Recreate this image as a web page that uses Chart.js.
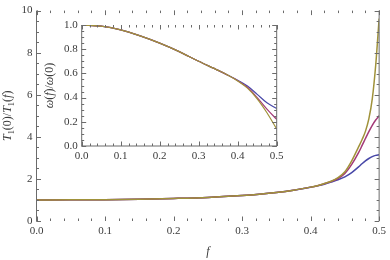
<!DOCTYPE html>
<html>
<head>
<meta charset="utf-8">
<script src="https://cdn.jsdelivr.net/npm/chart.js@4/dist/chart.umd.min.js"></script>
<style>
	html, body { margin: 0; padding: 0; background: #fff; }
	#wrap { position: relative; width: 390px; height: 260px; }
	#wrap canvas { position: absolute; left: 0; top: 0; }
</style>
</head>
<body>
<div id="wrap">
	<canvas id="main-chart" width="390" height="260"></canvas>
	<canvas id="inset-chart" width="390" height="260"></canvas>
</div>
<script>
	'use strict';

	// Main plot: T1(0)/T1(f) against f.
	const fMain = [0, 0.05, 0.1, 0.15, 0.2, 0.25, 0.3, 0.325, 0.35, 0.375, 0.4, 0.41, 0.42, 0.43, 0.44, 0.45, 0.46, 0.47, 0.475, 0.48, 0.485, 0.49, 0.495, 0.5];
	const mainBlue = [1.000, 1.005, 1.015, 1.035, 1.07, 1.12, 1.21, 1.27, 1.35, 1.46, 1.60, 1.67, 1.75, 1.85, 1.96, 2.10, 2.30, 2.57, 2.72, 2.86, 2.97, 3.06, 3.12, 3.15];
	const mainMagenta = [1.000, 1.005, 1.015, 1.035, 1.07, 1.12, 1.21, 1.27, 1.35, 1.46, 1.61, 1.68, 1.77, 1.88, 2.02, 2.26, 2.69, 3.25, 3.58, 3.92, 4.25, 4.55, 4.80, 5.00];
	const mainOlive = [1.000, 1.005, 1.015, 1.035, 1.07, 1.12, 1.21, 1.27, 1.35, 1.46, 1.61, 1.68, 1.78, 1.89, 2.06, 2.34, 2.86, 3.52, 3.86, 4.26, 4.85, 5.80, 7.40, 9.62];

	// Inset: omega(f)/omega(0) against f.
	const fInset = [0, 0.05, 0.1, 0.15, 0.2, 0.25, 0.3, 0.35, 0.375, 0.4, 0.425, 0.45, 0.475, 0.5];
	const insetBlue = [1.0, 0.99, 0.96, 0.91, 0.85, 0.78, 0.70, 0.625, 0.585, 0.543, 0.495, 0.427, 0.357, 0.31];
	const insetMagenta = [1.0, 0.99, 0.96, 0.91, 0.85, 0.78, 0.70, 0.625, 0.585, 0.540, 0.485, 0.40, 0.305, 0.22];
	const insetOlive = [1.0, 0.99, 0.96, 0.91, 0.85, 0.78, 0.70, 0.625, 0.585, 0.538, 0.478, 0.39, 0.275, 0.14];

	// Tick labels.
	const xTicks = [0, 0.1, 0.2, 0.3, 0.4, 0.5];
	const mainYTicks = [0, 2, 4, 6, 8, 10];
	const insetYTicks = [0, 0.2, 0.4, 0.6, 0.8, 1.0];

	const colors = {
		blue: 'rgb(72, 72, 168)',
		magenta: 'rgb(163, 58, 120)',
		olive: 'rgb(160, 146, 58)'
	};
	const axisColor = '#6b6b6b';
	const labelColor = '#3a3a3a';
	const serif = '"Liberation Serif", "DejaVu Serif", serif';

	function toPoints(xs, ys) {
		return xs.map(function(x, i) { return { x: x, y: ys[i] }; });
	}

	function lineSet(label, xs, ys, color, order, width) {
		return {
			label: label,
			data: toPoints(xs, ys),
			borderColor: color,
			backgroundColor: color,
			borderWidth: width,
			pointRadius: 0,
			fill: false,
			cubicInterpolationMode: 'monotone',
			order: order
		};
	}

	/**
	 * Mathematica style frame: inward ticks on every side, lines only where asked.
	 */
	const framePlugin = {
		id: 'frame',
		afterDatasetsDraw: function(chart, args, opts) {
			const ctx = chart.ctx;
			const a = chart.chartArea;
			const xs = chart.scales.x;
			const ys = chart.scales.y;
			ctx.save();
			ctx.strokeStyle = axisColor;
			ctx.lineWidth = 1;

			ctx.beginPath();
			opts.lines.forEach(function(side) {
				if (side === 'left') { ctx.moveTo(a.left, a.top); ctx.lineTo(a.left, a.bottom); }
				if (side === 'right') { ctx.moveTo(a.right, a.top); ctx.lineTo(a.right, a.bottom); }
				if (side === 'bottom') { ctx.moveTo(a.left, a.bottom); ctx.lineTo(a.right, a.bottom); }
				if (side === 'top') { ctx.moveTo(a.left, a.top); ctx.lineTo(a.right, a.top); }
			});
			ctx.stroke();

			function ticksFor(min, max, step) {
				const out = [];
				const n = Math.round((max - min) / step);
				for (let i = 0; i <= n; i++) out.push(min + i * step);
				return out;
			}

			ctx.beginPath();
			[[opts.xMinor, 2.5], [opts.xMajor, 4.5]].forEach(function(pair) {
				ticksFor(xs.min, xs.max, pair[0]).forEach(function(v) {
					const px = Math.round(xs.getPixelForValue(v)) + 0.5;
					ctx.moveTo(px, a.bottom); ctx.lineTo(px, a.bottom - pair[1]);
					ctx.moveTo(px, a.top); ctx.lineTo(px, a.top + pair[1]);
				});
			});
			[[opts.yMinor, 2.5], [opts.yMajor, 4.5]].forEach(function(pair) {
				ticksFor(ys.min, ys.max, pair[0]).forEach(function(v) {
					const py = Math.round(ys.getPixelForValue(v)) + 0.5;
					ctx.moveTo(a.left, py); ctx.lineTo(a.left + pair[1], py);
					ctx.moveTo(a.right, py); ctx.lineTo(a.right - pair[1], py);
				});
			});
			ctx.stroke();
			ctx.restore();
		}
	};

	/**
	 * Draw a run of text pieces with mixed italic / subscript styles.
	 */
	function drawRich(ctx, parts, x, y, size, rotate) {
		ctx.save();
		ctx.translate(x, y);
		if (rotate) ctx.rotate(-Math.PI / 2);
		ctx.fillStyle = labelColor;
		ctx.textBaseline = 'middle';
		ctx.textAlign = 'left';
		const fontFor = function(p) {
			const s = p.sub ? size * 0.7 : size;
			return (p.i ? 'italic ' : '') + s + 'px ' + serif;
		};
		let total = 0;
		parts.forEach(function(p) { ctx.font = fontFor(p); total += ctx.measureText(p.t).width; });
		let cx = -total / 2;
		parts.forEach(function(p) {
			ctx.font = fontFor(p);
			ctx.fillText(p.t, cx, p.sub ? size * 0.28 : 0);
			cx += ctx.measureText(p.t).width;
		});
		ctx.restore();
	}

	const titlesPlugin = {
		id: 'titles',
		afterDraw: function(chart, args, opts) {
			const a = chart.chartArea;
			if (opts.yParts) drawRich(chart.ctx, opts.yParts, opts.yX, (a.top + a.bottom) / 2, 12, true);
			if (opts.xParts) drawRich(chart.ctx, opts.xParts, (a.left + a.right) / 2, opts.xY, 12, false);
		}
	};

	function scaleOptions(min, max, ticks, decimals) {
		return {
			type: 'linear',
			min: min,
			max: max,
			grid: { display: false, drawTicks: false },
			border: { display: false },
			afterBuildTicks: function(scale) {
				scale.ticks = ticks.map(function(v) { return { value: v }; });
			},
			ticks: {
				color: labelColor,
				font: { family: serif, size: 11 },
				padding: 4,
				maxRotation: 0,
				autoSkip: false,
				callback: function(v) { return v.toFixed(decimals); }
			}
		};
	}

	function fixedSize(opts, prop, size) {
		opts.afterFit = function(scale) { scale[prop] = size; };
		return opts;
	}

	const commonOptions = {
		responsive: false,
		animation: false,
		events: [],
		plugins: {
			legend: { display: false },
			tooltip: { enabled: false }
		}
	};

	// Main chart.
	const mainCtx = document.getElementById('main-chart').getContext('2d');
	new Chart(mainCtx, {
		type: 'line',
		data: {
			datasets: [
				lineSet('blue', fMain, mainBlue, colors.blue, 2, 1.5),
				lineSet('magenta', fMain, mainMagenta, colors.magenta, 1, 1.5),
				lineSet('olive', fMain, mainOlive, colors.olive, 0, 1.5)
			]
		},
		options: Object.assign({}, commonOptions, {
			layout: { padding: { left: 0, right: 8.5, top: 7.5, bottom: 0 } },
			scales: {
				x: fixedSize(scaleOptions(0, 0.5, xTicks, 1), 'height', 39),
				y: fixedSize(scaleOptions(0, 10, mainYTicks, 0), 'width', 36.5)
			},
			plugins: Object.assign({}, commonOptions.plugins, {
				frame: { lines: ['left', 'right'], xMajor: 0.1, xMinor: 0.02, yMajor: 2, yMinor: 0.5 },
				titles: {
					yParts: [{ t: 'T', i: true }, { t: '1', sub: true }, { t: '(0)/' }, { t: 'T', i: true }, { t: '1', sub: true }, { t: '(' }, { t: 'f', i: true }, { t: ')' }],
					yX: 8,
					xParts: [{ t: 'f', i: true }],
					xY: 252
				}
			})
		}),
		plugins: [framePlugin, titlesPlugin]
	});

	// Inset chart.
	const insetCtx = document.getElementById('inset-chart').getContext('2d');
	new Chart(insetCtx, {
		type: 'line',
		data: {
			datasets: [
				lineSet('blue', fInset, insetBlue, colors.blue, 2, 1.2),
				lineSet('magenta', fInset, insetMagenta, colors.magenta, 1, 1.2),
				lineSet('olive', fInset, insetOlive, colors.olive, 0, 1.2)
			]
		},
		options: Object.assign({}, commonOptions, {
			layout: { padding: { left: 0, right: 113.3, top: 25, bottom: 0 } },
			scales: {
				x: fixedSize(scaleOptions(0, 0.5, xTicks, 1), 'height', 114),
				y: fixedSize(scaleOptions(0, 1, insetYTicks, 1), 'width', 81.7)
			},
			plugins: Object.assign({}, commonOptions.plugins, {
				frame: { lines: ['left', 'right', 'bottom'], xMajor: 0.1, xMinor: 0.02, yMajor: 0.2, yMinor: 0.05 },
				titles: {
					yParts: [{ t: 'ω', i: true }, { t: '(' }, { t: 'f', i: true }, { t: ')/' }, { t: 'ω', i: true }, { t: '(0)' }],
					yX: 50
				}
			})
		}),
		plugins: [framePlugin, titlesPlugin]
	});
</script>
</body>
</html>
